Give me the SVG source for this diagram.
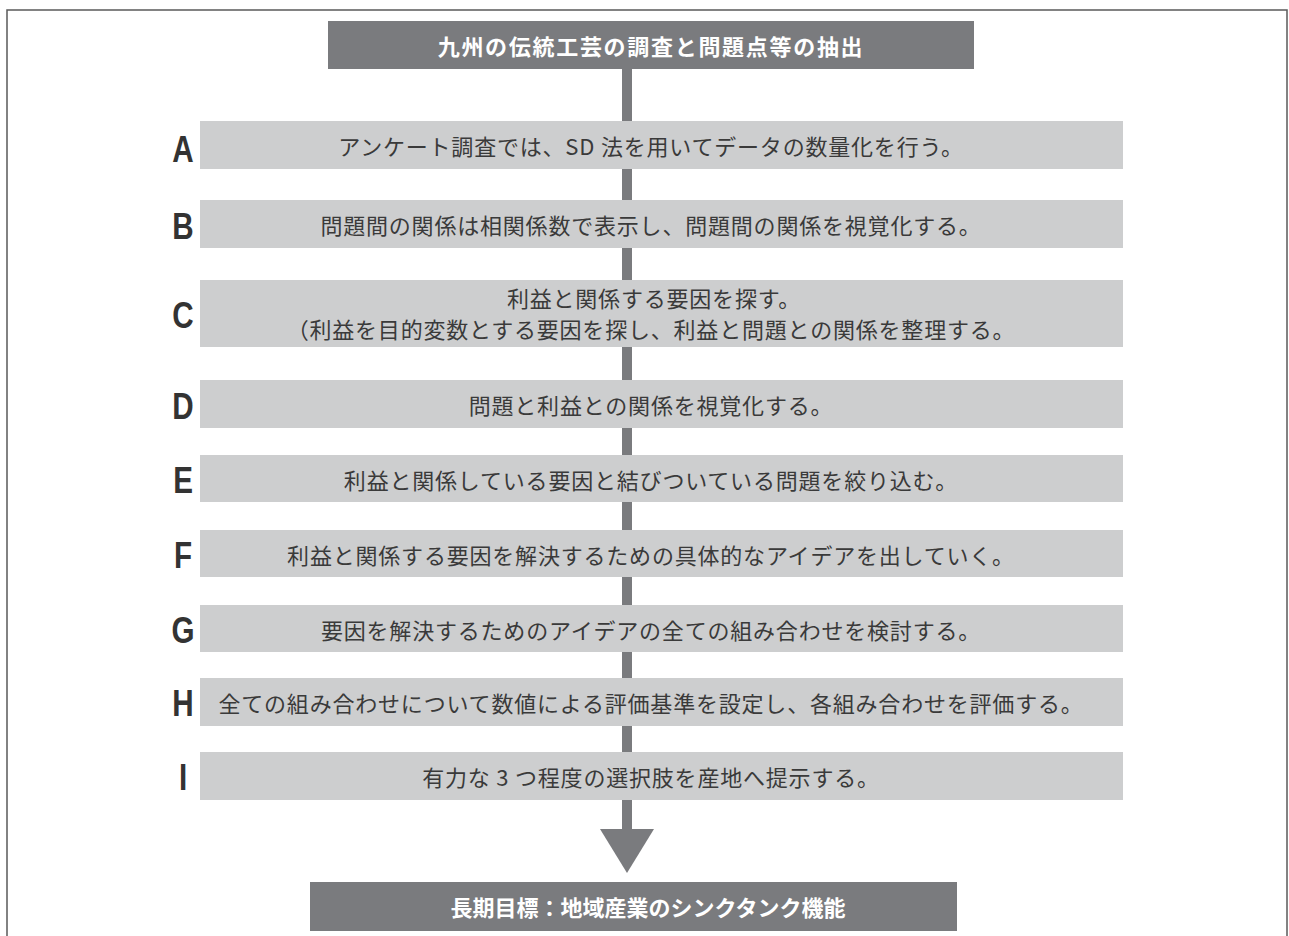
<svg xmlns="http://www.w3.org/2000/svg" width="1289" height="936" viewBox="0 0 1289 936">
<style>
.frame{fill:none;stroke:#5a5a5a;stroke-width:1.5}
.dark{fill:#7a7b7e}
.step{fill:#cdcecf}
.title{font-family:"Noto Sans CJK JP","Noto Sans",sans-serif;font-weight:bold;fill:#ffffff;font-size:22px;text-anchor:middle;dominant-baseline:central}
.txt{font-family:"Noto Sans CJK JP","Noto Sans",sans-serif;font-weight:normal;fill:#3a3a3a;font-size:22px;letter-spacing:0.8px;text-anchor:middle;dominant-baseline:central}
.lbl{font-family:"Liberation Sans",Arial,sans-serif;font-weight:bold;fill:#333333;font-size:37px;text-anchor:middle}
</style>
<rect x="0" y="0" width="1289" height="936" fill="#ffffff"/>
<rect class="frame" x="7" y="10" width="1280" height="940"/>
<g id="connectors">
<rect x="622" y="69" width="10" height="762" fill="#7a7b7e"/>
<polygon points="600,829 654,829 627,873" fill="#7a7b7e"/>
</g>
<g id="top">
<rect class="dark" x="328" y="21" width="646" height="48"/>
<text class="title" x="651" y="45" letter-spacing="1.7">九州の伝統工芸の調査と問題点等の抽出</text>
</g>
<g id="stepA">
<rect class="step" x="200" y="121" width="923" height="48"/>
<text class="lbl" transform="translate(183,162) scale(0.8,1)">A</text>
<text class="txt" x="651" y="145">アンケート調査では、SD 法を用いてデータの数量化を行う。</text>
</g>
<g id="stepB">
<rect class="step" x="200" y="200" width="923" height="48"/>
<text class="lbl" transform="translate(183,239) scale(0.8,1)">B</text>
<text class="txt" x="651" y="224">問題間の関係は相関係数で表示し、問題間の関係を視覚化する。</text>
</g>
<g id="stepC">
<rect class="step" x="200" y="280" width="923" height="67"/>
<text class="lbl" transform="translate(183,328) scale(0.8,1)">C</text>
<text class="txt" x="654" y="297">利益と関係する要因を探す。</text>
<text class="txt" x="651" y="328">（利益を目的変数とする要因を探し、利益と問題との関係を整理する。</text>
</g>
<g id="stepD">
<rect class="step" x="200" y="380" width="923" height="48"/>
<text class="lbl" transform="translate(183,419) scale(0.8,1)">D</text>
<text class="txt" x="651" y="404">問題と利益との関係を視覚化する。</text>
</g>
<g id="stepE">
<rect class="step" x="200" y="455" width="923" height="47"/>
<text class="lbl" transform="translate(183,493) scale(0.8,1)">E</text>
<text class="txt" x="651" y="478.5">利益と関係している要因と結びついている問題を絞り込む。</text>
</g>
<g id="stepF">
<rect class="step" x="200" y="530" width="923" height="47"/>
<text class="lbl" transform="translate(183,568) scale(0.8,1)">F</text>
<text class="txt" x="651" y="553.5">利益と関係する要因を解決するための具体的なアイデアを出していく。</text>
</g>
<g id="stepG">
<rect class="step" x="200" y="605" width="923" height="47"/>
<text class="lbl" transform="translate(183,643) scale(0.8,1)">G</text>
<text class="txt" x="651" y="628.5">要因を解決するためのアイデアの全ての組み合わせを検討する。</text>
</g>
<g id="stepH">
<rect class="step" x="200" y="678" width="923" height="48"/>
<text class="lbl" transform="translate(183,716) scale(0.8,1)">H</text>
<text class="txt" x="651" y="702">全ての組み合わせについて数値による評価基準を設定し、各組み合わせを評価する。</text>
</g>
<g id="stepI">
<rect class="step" x="200" y="752" width="923" height="48"/>
<text class="lbl" transform="translate(183,790) scale(0.8,1)">I</text>
<text class="txt" x="651" y="776">有力な 3 つ程度の選択肢を産地へ提示する。</text>
</g>
<g id="bottom">
<rect class="dark" x="310" y="882" width="647" height="49"/>
<text class="title" x="648" y="906">長期目標：地域産業のシンクタンク機能</text>
</g>
</svg>
